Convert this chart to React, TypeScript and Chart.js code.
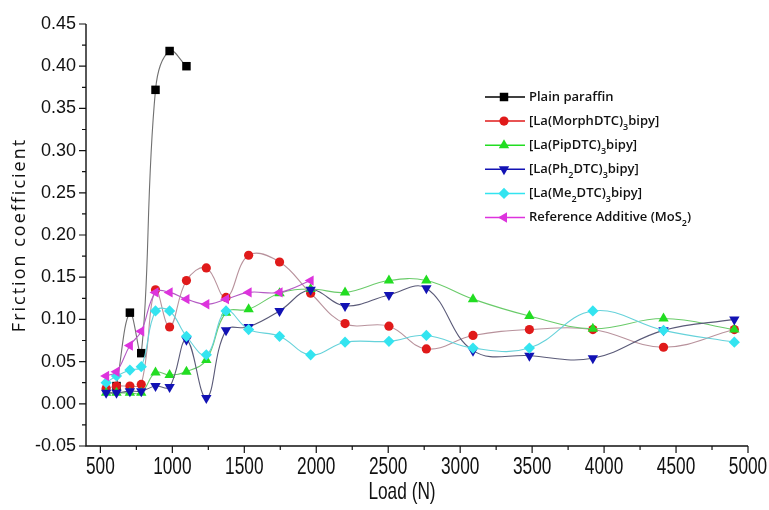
import React, { useEffect, useRef } from "react";
import { Chart, registerables } from "chart.js";
Chart.register(...registerables);

// Load stages (N)
const LOADS = [540, 612, 705, 784, 883, 981, 1098, 1236, 1373, 1530, 1745, 1961, 2200, 2505, 2765, 3089, 3481, 3922, 4413, 4905];

// Friction coefficient per series (null = no measurement)
const PLAIN = [null, 0.021, 0.108, 0.060, 0.372, 0.418, 0.400, null, null, null, null, null, null, null, null, null, null, null, null, null];
const MORPH = [0.018, 0.021, 0.021, 0.023, 0.135, 0.091, 0.146, 0.161, 0.126, 0.176, 0.168, 0.131, 0.095, 0.092, 0.065, 0.081, 0.088, 0.088, 0.067, 0.088];
const PIP = [0.013, 0.013, 0.013, 0.013, 0.037, 0.034, 0.038, 0.052, 0.108, 0.112, 0.131, 0.136, 0.132, 0.146, 0.146, 0.124, 0.104, 0.089, 0.101, 0.088];
const PH2 = [0.013, 0.013, 0.015, 0.015, 0.021, 0.020, 0.076, 0.007, 0.087, 0.091, 0.110, 0.135, 0.116, 0.129, 0.137, 0.063, 0.057, 0.054, 0.087, 0.100];
const ME2 = [0.025, 0.033, 0.040, 0.044, 0.110, 0.110, 0.080, 0.058, 0.110, 0.088, 0.080, 0.058, 0.073, 0.074, 0.081, 0.066, 0.066, 0.110, 0.087, 0.073];
const MOS2 = [0.033, 0.038, 0.069, 0.086, 0.132, 0.132, 0.124, 0.118, 0.124, 0.132, 0.132, 0.146, null, null, null, null, null, null, null, null];

// Legend labels (parts: [text, isSubscript])
const LABEL_PLAIN: [string, boolean][] = [["Plain paraffin", false]];
const LABEL_MORPH: [string, boolean][] = [["[La(MorphDTC)", false], ["3", true], ["bipy]", false]];
const LABEL_PIP: [string, boolean][] = [["[La(PipDTC)", false], ["3", true], ["bipy]", false]];
const LABEL_PH2: [string, boolean][] = [["[La(Ph", false], ["2", true], ["DTC)", false], ["3", true], ["bipy]", false]];
const LABEL_ME2: [string, boolean][] = [["[La(Me", false], ["2", true], ["DTC)", false], ["3", true], ["bipy]", false]];
const LABEL_MOS2: [string, boolean][] = [["Reference Additive (MoS", false], ["2", true], [")", false]];

const X_TICKS = [500, 1000, 1500, 2000, 2500, 3000, 3500, 4000, 4500, 5000];
const Y_TICKS = [-0.05, 0, 0.05, 0.1, 0.15, 0.2, 0.25, 0.3, 0.35, 0.4, 0.45];
const X_TITLE = "Load (N)";
const Y_TITLE = "Friction coefficient";

const SERIES = [
  { values: PLAIN, label: LABEL_PLAIN, marker: "#000000", line: "#707070", style: "rect", radius: 6, rotation: 0 },
  { values: MORPH, label: LABEL_MORPH, marker: "#e01a1a", line: "#b8929c", style: "circle", radius: 4.6, rotation: 0 },
  { values: PIP, label: LABEL_PIP, marker: "#22dd22", line: "#6acb6a", style: "triangle", radius: 6, rotation: 0 },
  { values: PH2, label: LABEL_PH2, marker: "#1212b4", line: "#5a5a78", style: "triangle", radius: 6, rotation: 180 },
  { values: ME2, label: LABEL_ME2, marker: "#33e4f0", line: "#66d2da", style: "rectRot", radius: 5.6, rotation: 0 },
  { values: MOS2, label: LABEL_MOS2, marker: "#dd33dd", line: "#b45ac4", style: "triangle", radius: 6, rotation: -90 },
];
const LEGEND_LINE = ["#000000", "#e01a1a", "#22dd22", "#1212b4", "#33e4f0", "#dd33dd"];

const NARROW = 0.72;

function drawNarrowText(ctx: any, text: string, x: number, y: number, size: number) {
  ctx.save();
  ctx.font = `${size}px 'Liberation Sans', Arial, sans-serif`;
  ctx.textAlign = "center";
  ctx.textBaseline = "middle";
  ctx.fillStyle = "#111";
  ctx.translate(x, y);
  ctx.scale(NARROW, 1);
  ctx.fillText(text, 0, 0);
  ctx.restore();
}

function drawMarker(ctx: any, style: string, r: number, rot: number, x: number, y: number) {
  ctx.save();
  ctx.translate(x, y);
  ctx.rotate((rot * Math.PI) / 180);
  ctx.beginPath();
  if (style === "circle") {
    ctx.arc(0, 0, r, 0, Math.PI * 2);
  } else if (style === "rect") {
    const h = r * Math.SQRT1_2;
    ctx.rect(-h, -h, 2 * h, 2 * h);
  } else if (style === "rectRot") {
    ctx.moveTo(0, -r);
    ctx.lineTo(r, 0);
    ctx.lineTo(0, r);
    ctx.lineTo(-r, 0);
    ctx.closePath();
  } else {
    const a = (Math.PI * 2) / 3;
    ctx.moveTo(0, -r);
    ctx.lineTo(r * Math.sin(a), -r * Math.cos(a));
    ctx.lineTo(-r * Math.sin(a), -r * Math.cos(a));
    ctx.closePath();
  }
  ctx.fill();
  ctx.restore();
}

const axesPlugin = {
  id: "customAxes",
  afterDraw(chart: any) {
    const ctx = chart.ctx;
    const xs = chart.scales.x;
    const ys = chart.scales.y;
    const { left, right, top, bottom } = chart.chartArea;
    ctx.save();
    ctx.strokeStyle = "#111";
    ctx.lineWidth = 1.4;
    ctx.beginPath();
    ctx.moveTo(left, top);
    ctx.lineTo(left, bottom);
    ctx.lineTo(right, bottom);
    ctx.stroke();
    ctx.lineWidth = 1.2;
    ctx.beginPath();
    for (let i = 0; i < X_TICKS.length; i++) {
      const px = xs.getPixelForValue(X_TICKS[i]);
      ctx.moveTo(px, bottom);
      ctx.lineTo(px, bottom + 7);
      if (i < X_TICKS.length - 1) {
        const mx = xs.getPixelForValue((X_TICKS[i] + X_TICKS[i + 1]) / 2);
        ctx.moveTo(mx, bottom);
        ctx.lineTo(mx, bottom + 4);
      }
    }
    for (let i = 0; i < Y_TICKS.length; i++) {
      const py = ys.getPixelForValue(Y_TICKS[i]);
      ctx.moveTo(left, py);
      ctx.lineTo(left - 7, py);
      if (i < Y_TICKS.length - 1) {
        const my = ys.getPixelForValue((Y_TICKS[i] + Y_TICKS[i + 1]) / 2);
        ctx.moveTo(left, my);
        ctx.lineTo(left - 4, my);
      }
    }
    ctx.stroke();

    // x tick labels and title (condensed)
    for (const v of X_TICKS) {
      drawNarrowText(ctx, String(v), xs.getPixelForValue(v), bottom + 21, 24);
    }
    drawNarrowText(ctx, X_TITLE, (left + right) / 2 - 15, 492, 24);

    // y title
    ctx.save();
    ctx.translate(20, (top + bottom) / 2);
    ctx.rotate(-Math.PI / 2);
    ctx.font = "18px 'Open Sans', sans-serif";
    (ctx as any).letterSpacing = "2px";
    ctx.textAlign = "center";
    ctx.textBaseline = "middle";
    ctx.fillStyle = "#111";
    ctx.fillText(Y_TITLE, 0, 0);
    ctx.restore();

    // legend
    const lx = 485;
    const ly0 = 97;
    const dy = 24.1;
    SERIES.forEach((s, i) => {
      const y = ly0 + dy * i;
      ctx.strokeStyle = LEGEND_LINE[i];
      ctx.lineWidth = 1.5;
      ctx.beginPath();
      ctx.moveTo(lx, y);
      ctx.lineTo(lx + 40, y);
      ctx.stroke();
      ctx.fillStyle = s.marker;
      drawMarker(ctx, s.style, s.radius, s.rotation, lx + 19, y);
      let tx = lx + 44;
      ctx.fillStyle = "#111";
      ctx.textBaseline = "middle";
      ctx.textAlign = "left";
      for (const [t, sub] of s.label) {
        ctx.font = sub ? "600 9px 'Open Sans', sans-serif" : "600 13px 'Open Sans', sans-serif";
        ctx.fillText(t, tx, sub ? y + 6 : y);
        tx += ctx.measureText(t).width;
      }
    });
    ctx.restore();
  },
};

export default function App() {
  const ref = useRef<HTMLCanvasElement>(null);
  useEffect(() => {
    const datasets = SERIES.map((s, i) => ({
      label: s.label.map((p) => p[0]).join(""),
      data: LOADS.map((x, j) => ({ x, y: s.values[j] })).filter((p) => p.y !== null),
      order: SERIES.length - i,
      borderColor: s.line,
      backgroundColor: s.marker,
      pointBackgroundColor: s.marker,
      pointBorderColor: s.marker,
      pointBorderWidth: 0,
      borderWidth: 1.1,
      pointStyle: s.style,
      pointRadius: s.radius,
      pointRotation: s.rotation,
      tension: 0.4,
      showLine: true,
    }));
    const chart = new Chart(ref.current!, {
      type: "scatter",
      data: { datasets: datasets as any },
      plugins: [axesPlugin],
      options: {
        animation: false,
        responsive: false,
        layout: { padding: { top: 24, right: 21, left: 0, bottom: 0 } },
        plugins: { legend: { display: false }, tooltip: { enabled: false } },
        scales: {
          x: {
            type: "linear",
            min: 400,
            max: 5000,
            grid: { display: false, drawTicks: false },
            border: { display: false },
            afterBuildTicks: (scale: any) => {
              scale.ticks = X_TICKS.map((v) => ({ value: v }));
            },
            afterFit: (scale: any) => {
              scale.height = 64;
            },
            ticks: { display: false },
            title: { display: false },
          },
          y: {
            type: "linear",
            min: -0.05,
            max: 0.45,
            grid: { display: false, drawTicks: false },
            border: { display: false },
            afterBuildTicks: (scale: any) => {
              scale.ticks = Y_TICKS.map((v) => ({ value: v }));
            },
            afterFit: (scale: any) => {
              scale.width = 86;
            },
            ticks: {
              padding: 10,
              color: "#111",
              autoSkip: false,
              font: { family: "'Liberation Sans', Arial, sans-serif", size: 18 },
              callback: (v: any) => Number(v).toFixed(2),
            },
            title: { display: false },
          },
        },
      } as any,
    });
    return () => chart.destroy();
  }, []);
  return (
    <div style={{ position: "absolute", left: 0, top: 0, width: 769, height: 510, background: "#fff" }}>
      <canvas ref={ref} width={769} height={510} style={{ width: 769, height: 510, display: "block" }} />
    </div>
  );
}
